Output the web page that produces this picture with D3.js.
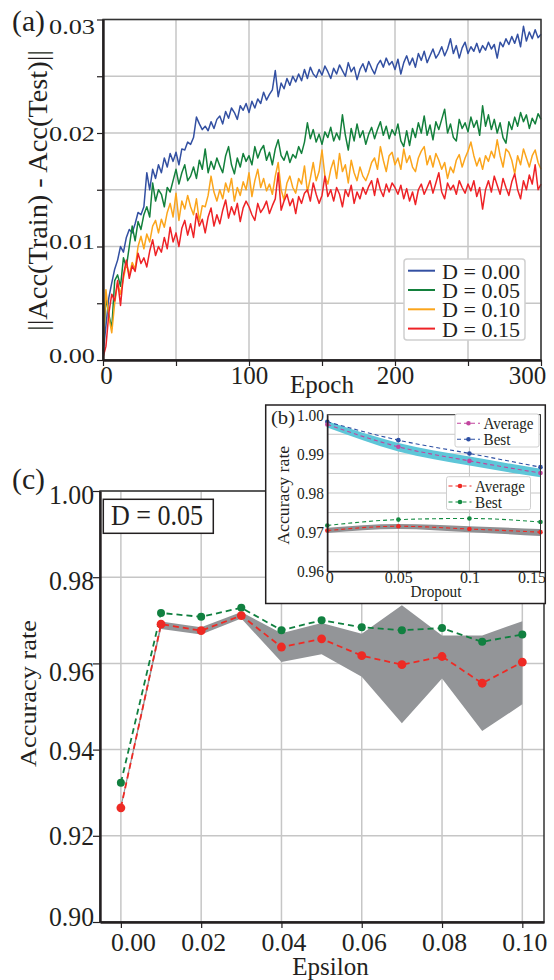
<!DOCTYPE html>
<html>
<head>
<meta charset="utf-8">
<script src="https://cdn.jsdelivr.net/npm/d3@7"></script>
<style>
  body { margin: 0; background: #fff; }
  svg { display: block; }
</style>
</head>
<body>
<svg id="fig" width="554" height="980"></svg>
<script>
// ---------- data ----------
// (a) generalisation gap per epoch, sampled every 2 epochs, in units of 1e-4
const epochStep = 2;
const dropoutLabels = ['D = 0.00', 'D = 0.05', 'D = 0.10', 'D = 0.15'];
const gapD000 = [
  5, 30, 55, 68, 80, 88, 100, 95, 108, 115,
  112, 120, 130, 128, 135, 165, 150, 168, 160, 172,
  165, 178, 170, 182, 175, 183, 172, 186, 185, 192,
  190, 196, 214, 208, 203, 206, 202, 210, 204, 212,
  215, 208, 219, 213, 222, 218, 212, 224, 220, 226,
  218, 228, 222, 230, 226, 236, 229, 234, 238, 255,
  232, 244, 239, 248, 242, 250, 245, 252, 246, 256,
  248, 258, 252, 249, 256, 251, 259, 254, 248, 257,
  252, 260, 255, 250, 262, 254, 258, 247, 256, 261,
  254, 263, 257, 252, 260, 264, 258, 266, 260, 263,
  256, 265, 252, 262, 268, 260, 266, 258, 270, 264,
  272, 262, 268, 274, 266, 270, 276, 268, 274, 283,
  270, 277, 266, 275, 280, 270, 276, 272, 279, 271,
  277, 273, 280, 274, 278, 266, 280, 276, 283, 278,
  285, 279, 287, 276, 294, 281, 289, 283, 291, 284,
  287
];
const gapD005 = [
  8, 55, 40, 28, 70, 75, 65, 90, 82, 100,
  118, 105, 122, 115, 128, 135, 126, 156, 140, 150,
  146, 135, 152, 148, 158, 168, 155, 165, 172, 158,
  162, 170, 160, 176, 168, 186, 165, 175, 168, 178,
  171, 165, 180, 188, 172, 164, 178, 170, 182, 175,
  180, 172, 188, 178, 185, 189, 176, 183, 172, 186,
  194, 180, 176, 184, 174, 181, 178, 188, 182, 192,
  209, 195, 203, 192, 199, 190, 201, 196, 205, 193,
  200, 194, 216, 198, 185, 204, 193, 208, 196, 202,
  190, 199, 205, 195, 203, 210, 198, 206, 195, 203,
  198, 208, 193, 188, 202, 189, 204, 196, 209, 200,
  215, 198, 207, 194, 210, 203, 212, 221, 200, 208,
  196, 193, 212, 204, 209, 201, 214, 205, 211, 198,
  224, 206, 216, 203, 212, 200, 209, 196, 191, 210,
  203, 214, 206, 218, 210, 216, 204, 213, 208, 217,
  212
];
const gapD010 = [
  10, 62, 38, 24, 50, 68, 58, 72, 85, 75,
  86, 80, 100, 109, 98, 111, 104, 118, 123, 112,
  124, 117, 130, 138, 126, 147, 123, 140, 133, 145,
  135, 128, 142, 122, 136, 135, 145, 162, 148, 140,
  150, 142, 156, 148, 160, 140, 152, 145, 157, 150,
  165, 144, 158, 168, 152, 160, 149, 155, 146, 162,
  174, 150, 141, 156, 162, 152, 147, 160, 155, 171,
  148, 160, 174, 158, 166, 185, 162, 155, 168, 176,
  160, 182, 166, 172, 156, 176, 165, 158, 170, 162,
  158, 165, 174, 178, 168, 188, 176, 166, 180, 183,
  172, 178, 168, 186, 174, 180, 170, 166, 178, 184,
  188, 172, 180, 170, 182, 176, 168, 174, 160, 170,
  165, 176, 181, 170, 178, 184, 192, 180, 171, 178,
  168, 180, 175, 184, 178, 194, 180, 170, 186, 183,
  176, 164, 180, 172, 186, 178, 170, 180, 185, 174,
  168
];
const gapD015 = [
  2, 12, 41, 58, 52, 70, 48, 75, 88, 72,
  83, 78, 94, 85, 90, 82, 96, 106, 92, 100,
  95, 108, 98, 117, 104, 112, 100, 116, 123, 110,
  120, 108, 129, 118, 124, 112, 126, 134, 118, 128,
  120, 132, 141, 125, 135, 128, 138, 122, 134, 140,
  135, 128, 123, 138, 130, 134, 140, 129, 136, 142,
  165, 132, 140, 146, 136, 142, 129, 144, 138, 147,
  150, 140, 156, 146, 138, 145, 162, 144, 150, 140,
  152, 146, 135, 150, 144, 154, 138, 148, 142, 152,
  146, 153, 158, 145, 160, 150, 144, 155, 148, 156,
  152, 146, 154, 142, 151, 140, 148, 137, 150, 155,
  146, 152, 158, 147, 156, 165, 148, 142, 156, 150,
  154, 146, 158, 152, 147, 155, 149, 158, 144, 152,
  133, 150, 158, 148, 162, 154, 146, 160, 152, 145,
  157, 164, 150, 142, 158, 150, 163, 155, 172, 150,
  155
];
const epochGrid = [0, 50, 100, 150, 200, 250, 300];
const epochLabels = [0, 100, 200, 300];
const gapGrid = [0, 0.005, 0.01, 0.015, 0.02, 0.025, 0.03];

// (b) accuracy vs dropout
const dropouts = [0, 0.05, 0.1, 0.15];
const cleanAvg = [0.9975, 0.9918, 0.9882, 0.9851];
const cleanBest = [0.9982, 0.9935, 0.9901, 0.9866];
const cleanMin = [0.9967, 0.9906, 0.9870, 0.9840];
const cleanMax = [0.9983, 0.9928, 0.9893, 0.9862];
const advAvg = [0.9704, 0.9715, 0.9708, 0.9700];
const advBest = [0.9717, 0.9732, 0.9735, 0.9726];
const advMin = [0.9698, 0.9708, 0.9700, 0.9690];
const advMax = [0.9711, 0.9721, 0.9715, 0.9708];
const dropoutTicks = [0, 0.05, 0.1, 0.15];
const accTicksB = [0.96, 0.965, 0.97, 0.975, 0.98, 0.985, 0.99, 0.995, 1.0];

// (c) accuracy vs epsilon, D = 0.05
const epsilons = [0, 0.01, 0.02, 0.03, 0.04, 0.05, 0.06, 0.07, 0.08, 0.09, 0.10];
const epsBest = [0.9323, 0.9717, 0.9708, 0.9729, 0.9677, 0.9700, 0.9684, 0.9677, 0.9682, 0.9650, 0.9667];
const epsAvg = [0.9265, 0.9691, 0.9676, 0.9711, 0.9638, 0.9657, 0.9618, 0.9597, 0.9616, 0.9554, 0.9603];
const epsMin = [0.9261, 0.9680, 0.9667, 0.9704, 0.9603, 0.9621, 0.9569, 0.9461, 0.9565, 0.9443, 0.9505];
const epsMax = [0.9273, 0.9697, 0.9684, 0.9719, 0.9670, 0.9694, 0.9669, 0.9735, 0.9665, 0.9665, 0.9698];
const epsTicks = [0, 0.02, 0.04, 0.06, 0.08, 0.10];
const accTicksC = [0.90, 0.92, 0.94, 0.96, 0.98, 1.00];

// ---------- styling ----------
const serif = '"Liberation Serif", "Times New Roman", serif';
const ink = '#231f20';
const gridCol = '#c6c6c6';
const gapColors = ['#3350a2', '#13803c', '#fba51c', '#ee2226'];

const svg = d3.select('#fig');

function fit(sel, len) {
  return sel.attr('textLength', len).attr('lengthAdjust', 'spacingAndGlyphs');
}

function label(g, txt, size, len) {
  const t = g.append('text').text(txt)
    .attr('font-family', serif).attr('font-size', size).attr('fill', ink);
  if (len) fit(t, len);
  return t;
}

function grid(g, x, y, xs, ys, box, w) {
  const gg = g.append('g').attr('stroke', gridCol).attr('stroke-width', w);
  gg.selectAll('line.v').data(xs).join('line').attr('class', 'v')
    .attr('x1', d => x(d)).attr('x2', d => x(d)).attr('y1', box.t).attr('y2', box.b);
  gg.selectAll('line.h').data(ys).join('line').attr('class', 'h')
    .attr('x1', box.l).attr('x2', box.r).attr('y1', d => y(d)).attr('y2', d => y(d));
}

function styleAxis(ax, size, len, spine) {
  ax.attr('font-family', null).attr('font-size', null);
  ax.select('.domain').attr('stroke', ink).attr('stroke-width', spine);
  ax.selectAll('.tick line').attr('stroke', ink).attr('stroke-width', 1.2);
  const txt = ax.selectAll('.tick text')
    .attr('font-family', serif).attr('font-size', size).attr('fill', ink);
  if (len) fit(txt.filter(function () { return this.textContent !== ''; }), len);
  return txt;
}

// ---------- (a) ----------
const pa = { l: 103, r: 541, t: 19.5, b: 360 };
const xA = d3.scaleLinear().domain([0, 300]).range([pa.l, pa.r]);
const yA = d3.scaleLinear().domain([0, 0.03]).range([pa.b, pa.t]);
const gA = svg.append('g');

grid(gA, xA, yA, epochGrid, gapGrid, pa, 1.5);

const lineA = d3.line().x((d, i) => xA(i * epochStep)).y(d => yA(d * 1e-4));
[gapD000, gapD005, gapD010, gapD015].forEach((s, i) => {
  gA.append('path').datum(s).attr('d', lineA)
    .attr('fill', 'none').attr('stroke', gapColors[i])
    .attr('stroke-width', 1.5).attr('stroke-linejoin', 'round');
});

gA.append('rect').attr('x', pa.l).attr('y', pa.t)
  .attr('width', pa.r - pa.l).attr('height', pa.b - pa.t)
  .attr('fill', 'none').attr('stroke', '#333').attr('stroke-width', 1.5);

const yAxA = gA.append('g').attr('transform', `translate(${pa.l},0)`)
  .call(d3.axisLeft(yA).tickValues(gapGrid).tickSize(6).tickSizeOuter(0).tickPadding(2)
    .tickFormat(d => Math.round(d * 1e4) % 100 === 0 ? d3.format('.2f')(d) : ''));
const yNudgeA = { '0.00': 2, '0.01': 2, '0.02': 7, '0.03': 14 };
styleAxis(yAxA, 22, 46, 2.4)
  .attr('dy', null).attr('y', d => yNudgeA[d3.format('.2f')(d)] || 0);

const xAxA = gA.append('g').attr('transform', `translate(0,${pa.b})`)
  .call(d3.axisBottom(xA).tickValues(epochGrid).tickSize(6).tickSizeOuter(0)
    .tickFormat(d => epochLabels.includes(d) ? String(d) : ''));
styleAxis(xAxA, 25, null, 2.4)
  .attr('dy', null).attr('y', 23.5)
  .attr('dx', d => d === 0 ? 3 : d === 300 ? -14 : 0);

label(gA, '(a)', 29, 33).attr('x', 12).attr('y', 31);
label(gA, '||Acc(Train) - Acc(Test)||', 27, 281)
  .attr('text-anchor', 'middle').attr('transform', 'translate(47,190.5) rotate(-90)');
label(gA, 'Epoch', 25).attr('text-anchor', 'middle').attr('x', 322).attr('y', 393);

const legA = gA.append('g').attr('transform', 'translate(404,259)');
legA.append('rect').attr('width', 121).attr('height', 81).attr('rx', 3)
  .attr('fill', '#fff').attr('stroke', '#cfcfcf').attr('stroke-width', 1.5);
const itemsA = legA.selectAll('g.item').data(dropoutLabels).join('g')
  .attr('class', 'item').attr('transform', (d, i) => `translate(0,${11.7 + i * 19.3})`);
itemsA.append('line').attr('x1', 4).attr('x2', 31)
  .attr('stroke', (d, i) => gapColors[i]).attr('stroke-width', 2);
itemsA.append('text').text(d => d).attr('x', 38).attr('y', 8)
  .attr('font-family', serif).attr('font-size', 20).attr('fill', ink)
  .call(fit, 78);

// ---------- (c) ----------
const pc = { l: 100, r: 544, t: 491, b: 922 };
const xC = d3.scaleLinear().domain([-0.0052, 0.1054]).range([pc.l, pc.r]);
const yC = d3.scaleLinear().domain([0.90, 1.00]).range([pc.b, pc.t]);
const gC = svg.append('g');

grid(gC, xC, yC, epsTicks, accTicksC, pc, 1.5);

gC.append('path').datum(epsilons)
  .attr('d', d3.area().x(d => xC(d))
    .y0((d, i) => yC(epsMin[i])).y1((d, i) => yC(epsMax[i])))
  .attr('fill', '#939598');

const seriesC = [
  { vals: epsBest, color: '#118040', r: 4 },
  { vals: epsAvg, color: '#ee2a24', r: 4.4 }
];
seriesC.forEach(s => {
  gC.append('path').datum(epsilons)
    .attr('d', d3.line().x(d => xC(d)).y((d, i) => yC(s.vals[i])))
    .attr('fill', 'none').attr('stroke', s.color).attr('stroke-width', 1.8)
    .attr('stroke-dasharray', '6,4');
  gC.append('g').selectAll('circle').data(epsilons).join('circle')
    .attr('cx', d => xC(d)).attr('cy', (d, i) => yC(s.vals[i]))
    .attr('r', s.r).attr('fill', s.color);
});

gC.append('rect').attr('x', pc.l).attr('y', pc.t)
  .attr('width', pc.r - pc.l).attr('height', pc.b - pc.t)
  .attr('fill', 'none').attr('stroke', '#333').attr('stroke-width', 1.5);

const yAxC = gC.append('g').attr('transform', `translate(${pc.l},0)`)
  .call(d3.axisLeft(yC).tickValues(accTicksC).tickSize(7).tickSizeOuter(0).tickPadding(-1)
    .tickFormat(d3.format('.2f')));
const yNudgeC = { '1.00': 12, '0.98': 12, '0.96': 17, '0.94': 10, '0.92': 9, '0.90': 3 };
styleAxis(yAxC, 28, 45, 2.4)
  .attr('dy', null).attr('y', d => yNudgeC[d3.format('.2f')(d)]);

const xAxC = gC.append('g').attr('transform', `translate(0,${pc.b})`)
  .call(d3.axisBottom(xC).tickValues(epsTicks).tickSize(6).tickSizeOuter(0)
    .tickFormat(d3.format('.2f')));
styleAxis(xAxC, 26, 45, 2.4)
  .attr('dy', null).attr('y', 28.5)
  .attr('dx', d => d === 0 ? 12 : 2);

label(gC, '(c)', 29, 33).attr('x', 12).attr('y', 489);
label(gC, 'Accuracy rate', 23, 147)
  .attr('text-anchor', 'middle').attr('transform', 'translate(36,693.5) rotate(-90)');
label(gC, 'Epsilon', 25).attr('text-anchor', 'middle').attr('x', 330.5).attr('y', 975);

gC.append('rect').attr('x', 103.3).attr('y', 499.3).attr('width', 110).attr('height', 34)
  .attr('fill', '#fff').attr('stroke', ink).attr('stroke-width', 1.5);
label(gC, 'D = 0.05', 29, 92).attr('x', 111).attr('y', 525);

// ---------- (b) inset ----------
const gB = svg.append('g');
gB.append('rect').attr('x', 265.7).attr('y', 405).attr('width', 279.6).attr('height', 198.5)
  .attr('fill', '#fff').attr('stroke', ink).attr('stroke-width', 1.5);

const pb = { l: 327.3, r: 540.5, t: 414.7, b: 571.3 };
const xB = d3.scaleLinear().domain([0, 0.15]).range([pb.l, pb.r]);
const yB = d3.scaleLinear().domain([0.96, 1.00]).range([pb.b, pb.t]);

grid(gB, xB, yB, dropoutTicks, accTicksB, pb, 1);

const bandB = (lo, hi) => d3.area().curve(d3.curveMonotoneX)
  .x(d => xB(d)).y0((d, i) => yB(lo[i])).y1((d, i) => yB(hi[i]));
gB.append('path').datum(dropouts).attr('d', bandB(cleanMin, cleanMax)).attr('fill', '#5ec6d8');
gB.append('path').datum(dropouts).attr('d', bandB(advMin, advMax)).attr('fill', '#8f9093');

const seriesB = [
  { vals: cleanBest, color: '#2d4fa3' },
  { vals: cleanAvg, color: '#c2459f' },
  { vals: advBest, color: '#128a40' },
  { vals: advAvg, color: '#ee2a24' }
];
seriesB.forEach(s => {
  gB.append('path').datum(dropouts)
    .attr('d', d3.line().curve(d3.curveMonotoneX).x(d => xB(d)).y((d, i) => yB(s.vals[i])))
    .attr('fill', 'none').attr('stroke', s.color).attr('stroke-width', 1.1)
    .attr('stroke-dasharray', '4,3');
  gB.append('g').selectAll('circle').data(dropouts).join('circle')
    .attr('cx', d => xB(d)).attr('cy', (d, i) => yB(s.vals[i]))
    .attr('r', 2.3).attr('fill', s.color);
});

gB.append('rect').attr('x', pb.l).attr('y', pb.t)
  .attr('width', pb.r - pb.l).attr('height', pb.b - pb.t)
  .attr('fill', 'none').attr('stroke', '#333').attr('stroke-width', 1);

const yAxB = gB.append('g').attr('transform', `translate(${pb.l},0)`)
  .call(d3.axisLeft(yB).tickValues(accTicksB).tickSize(0).tickSizeOuter(0).tickPadding(3.3)
    .tickFormat(d => Math.round(d * 1e3) % 10 === 0 ? d3.format('.2f')(d) : ''));
styleAxis(yAxB, 16, 27, 1.4).attr('dy', null).attr('y', 5.5);

const xAxB = gB.append('g').attr('transform', `translate(0,${pb.b})`)
  .call(d3.axisBottom(xB).tickValues(dropoutTicks).tickSize(0).tickSizeOuter(0)
    .tickFormat(d => String(d)));
styleAxis(xAxB, 16, null, 1.4)
  .attr('dy', null).attr('y', 12)
  .attr('dx', d => d === 0 ? 2 : d === 0.15 ? -9 : 0);

label(gB, '(b)', 19, 24).attr('x', 271).attr('y', 424);
label(gB, 'Accuracy rate', 16, 99)
  .attr('text-anchor', 'middle').attr('transform', 'translate(288.5,495.3) rotate(-90)');
label(gB, 'Dropout', 17, 51).attr('text-anchor', 'middle').attr('x', 436).attr('y', 597);

function legendB(x, y, entries) {
  const lg = gB.append('g').attr('transform', `translate(${x},${y})`);
  lg.append('rect').attr('width', 84).attr('height', 33).attr('rx', 2)
    .attr('fill', '#fff').attr('stroke', '#cfcfcf').attr('stroke-width', 1);
  const it = lg.selectAll('g.item').data(entries).join('g')
    .attr('class', 'item').attr('transform', (d, i) => `translate(0,${9.3 + i * 16})`);
  it.append('line').attr('x1', 2).attr('x2', 25)
    .attr('stroke', d => d.color).attr('stroke-width', 1.1).attr('stroke-dasharray', '4,3');
  it.append('circle').attr('cx', 13.5).attr('r', 2.3).attr('fill', d => d.color);
  it.append('text').text(d => d.name).attr('x', 28.5).attr('y', 5.5)
    .attr('font-family', serif).attr('font-size', 16).attr('fill', ink)
    .each(function (d) { fit(d3.select(this), d.name === 'Average' ? 50 : 27); });
}
legendB(455, 414, [
  { name: 'Average', color: seriesB[1].color },
  { name: 'Best', color: seriesB[0].color }
]);
legendB(446.5, 476.7, [
  { name: 'Average', color: seriesB[3].color },
  { name: 'Best', color: seriesB[2].color }
]);
</script>
</body>
</html>
